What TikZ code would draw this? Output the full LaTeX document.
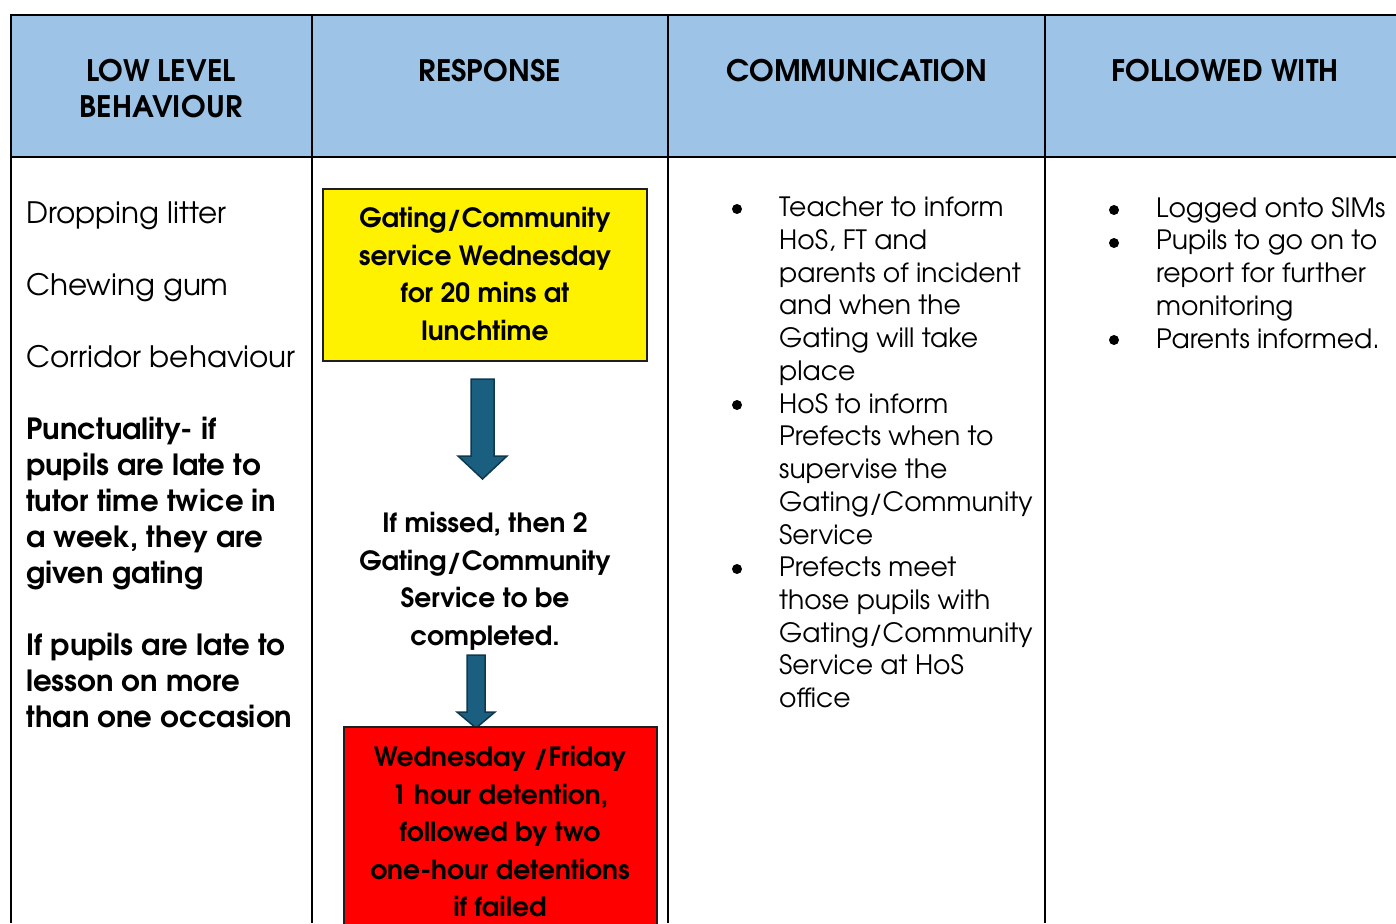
\documentclass[tikz,border=0pt]{standalone}
\usepackage{fontspec}
\setmainfont{TeX Gyre Adventor}
\definecolor{hdrblue}{RGB}{157,195,230}
\definecolor{arrowfill}{RGB}{26,94,128}
\definecolor{arrowline}{RGB}{14,56,78}
\begin{document}
\begin{tikzpicture}[x=1pt,y=-1pt,
  hdr/.style={font=\bfseries\fontsize{29.6}{36}\selectfont, align=center, inner sep=0},
  plain/.style={font=\fontsize{26.6}{32.7}\selectfont, align=left, inner sep=0, anchor=north west},
  bigplain/.style={font=\fontsize{29.5}{36}\selectfont, align=left, inner sep=0, anchor=north west},
  boldtxt/.style={font=\bfseries\fontsize{29.2}{36}\selectfont, align=left, inner sep=0, anchor=north west},
  boxtxt/.style={font=\bfseries\fontsize{26.5}{37.5}\selectfont, align=center, inner sep=0, anchor=north},
  rule/.style={line width=2.5pt, black},
  boxline/.style={line width=2pt, draw={rgb,255:red,30;green,30;blue,30}},
  blockarrow/.style={fill=arrowfill, draw=arrowline, line width=1.5pt, line join=miter},
  bullet/.style={circle, fill=black, inner sep=0, minimum size=10pt}
]
\useasboundingbox (0,0) rectangle (1396,923);
% header band
\fill[hdrblue] (11,15) rectangle (1396,157);
% table rules
\draw[rule] (1396,15) -- (11,15) -- (11,923);
\draw[rule] (11,157) -- (1396,157);
\draw[rule] (312,15) -- (312,923);
\draw[rule] (668,15) -- (668,923);
\draw[rule] (1045,15) -- (1045,923);

% header texts
\node[hdr] (h1) at (161,89) {LOW LEVEL\\BEHAVIOUR};
\node[hdr] (h2) at (490,71) {RESPONSE};
\node[hdr] (h3) at (857,71) {COMMUNICATION};
\node[hdr] (h4) at (1225,71) {FOLLOWED WITH};

% column 1
\node[bigplain] (c1a) at (26,201) {Dropping litter};
\node[bigplain] (c1b) at (26,273) {Chewing gum};
\node[bigplain] (c1c) at (26,345) {Corridor behaviour};
\node[boldtxt] (c1d) at (26,417) {Punctuality- if\\pupils are late to\\tutor time twice in\\a week, they are\\given gating};
\node[boldtxt] (c1e) at (26,633) {If pupils are late to\\lesson on more\\than one occasion};

% column 2
\filldraw[boxline, fill=yellow] (323,189) rectangle (647,361);
\node[boxtxt] (yb) at (485,207) {Gating/Community\\service Wednesday\\for 20 mins at\\lunchtime};
\filldraw[blockarrow] (471,379) -- (494,379) -- (494,456) -- (507,456) -- (482.5,479) -- (458,456) -- (471,456) -- cycle;
\node[boxtxt] (mid) at (485,512) {If missed, then 2\\Gating/Community\\Service to be\\completed.};
\filldraw[blockarrow] (467,655) -- (485,655) -- (485,712) -- (495,712) -- (476,728) -- (457,712) -- (467,712) -- cycle;
\filldraw[boxline, fill=red] (344,727) rectangle (657,930);
\node[boxtxt] (rb) at (500,746) {Wednesday /Friday\\1 hour detention,\\followed by two\\one-hour detentions\\if failed};

% column 3
\node[bullet] (b31) at (737,209) {};
\node[plain] (c3a) at (779,197) {Teacher to inform\\HoS, FT and\\parents of incident\\and when the\\Gating will take\\place};
\node[bullet] (b32) at (737,405) {};
\node[plain] (c3b) at (779,393) {HoS to inform\\Prefects when to\\supervise the\\Gating/Community\\Service};
\node[bullet] (b33) at (737,569) {};
\node[plain] (c3c) at (779,557) {Prefects meet\\those pupils with\\Gating/Community\\Service at HoS\\office};

% column 4
\node[bullet] (b41) at (1114,210) {};
\node[bullet] (b42) at (1114,243) {};
\node[bullet] (b43) at (1114,340) {};
\node[plain] (c4) at (1156,197) {Logged onto SIMs\\Pupils to go on to\\report for further\\monitoring\\Parents informed.};
\end{tikzpicture}
\end{document}
